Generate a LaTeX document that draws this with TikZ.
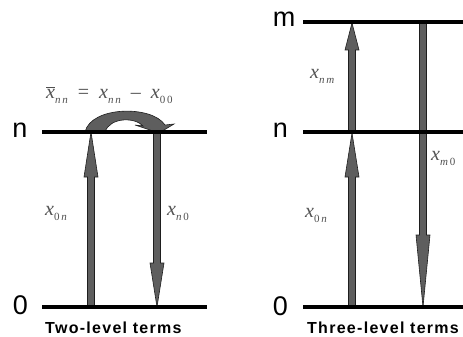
\documentclass[tikz,border=0pt]{standalone}
\usepackage{fontspec}
\setmainfont{Liberation Sans}
\newfontfamily\tms{Liberation Serif}
\newfontfamily\ttl{Liberation Sans}[LetterSpace=8]
\usetikzlibrary{calc}
\definecolor{arrfill}{HTML}{5E5E5E}
\definecolor{arredge}{HTML}{1E1E1E}
\definecolor{labgray}{HTML}{505050}
\tikzset{
 level/.style={line width=3.2pt, black},
 fatstyle/.style={fill=arrfill, draw=arredge, line width=0.6pt, line join=miter},
 lvlabel/.style={font=\fontsize{27}{27}\selectfont, anchor=base, inner sep=0pt},
 mlab/.style={font=\tms\fontsize{20}{20}\selectfont, text=labgray, anchor=base west, inner sep=0pt},
 ttlabel/.style={font=\ttl\bfseries\fontsize{16}{16}\selectfont, anchor=base west, inner sep=0pt},
}
\newcommand\fatarrow[3]{\filldraw[fatstyle] ($(#1)+(-3.5,0)$) -- ($(#2)+(-3.5,#3)$) -- ($(#2)+(-7,#3)$) -- (#2) -- ($(#2)+(7,#3)$) -- ($(#2)+(3.5,#3)$) -- ($(#1)+(3.5,0)$) -- cycle;}
\newcommand\xs[1]{\textit{x}\raisebox{-0.28em}{\fontsize{11}{11}\selectfont #1}}
\newcommand\xbs[1]{$\overline{\mbox{\textit{x}}}$\raisebox{-0.28em}{\fontsize{11}{11}\selectfont #1}}
\begin{document}
\begin{tikzpicture}[x=1pt,y=-1pt]
\useasboundingbox (0,0) rectangle (463,337);
% level end points
\coordinate (l0a) at (42,307); \coordinate (l0b) at (207,307);
\coordinate (lna) at (42,132); \coordinate (lnb) at (207,132);
\coordinate (r0a) at (303,307); \coordinate (r0b) at (463,307);
\coordinate (rna) at (303,132); \coordinate (rnb) at (463,132);
\coordinate (rma) at (303,22); \coordinate (rmb) at (463,22);
% arrow end points
\coordinate (u1s) at (91,307); \coordinate (u1t) at (91,132);
\coordinate (d1s) at (157,132); \coordinate (d1t) at (157,307);
\coordinate (u2s) at (352,307); \coordinate (u2t) at (352,133);
\coordinate (u3s) at (352,132); \coordinate (u3t) at (352,23);
\coordinate (d2s) at (423,22); \coordinate (d2t) at (423,307);
% arrows
\fatarrow{u1s}{u1t}{45}
\fatarrow{d1s}{d1t}{-44}
\fatarrow{u2s}{u2t}{44}
\fatarrow{u3s}{u3t}{27}
\fatarrow{d2s}{d2t}{-72}
% curved arrow
\filldraw[fatstyle] (85,132) .. controls (91,106) and (152,105) .. (165,125) -- (174,124) -- (159,133) -- (135,125) -- (143,126) .. controls (135,117) and (110,117) .. (105,132) -- cycle;
% levels
\draw[level] (l0a) -- (l0b);
\draw[level] (lna) -- (lnb);
\draw[level] (r0a) -- (r0b);
\draw[level] (rna) -- (rnb);
\draw[level] (rma) -- (rmb);
% level labels
\node[lvlabel] (ln) at (20,137) {n};
\node[lvlabel] (l0) at (20.5,314) {0};
\node[lvlabel] (rm) at (284,27) {m};
\node[lvlabel] (rn) at (280.5,137) {n};
\node[lvlabel] (r0) at (280.5,315) {0};
% math labels
\node[mlab] (f) at (46,98) {\xbs{\textit{n\,n}}\hspace{0.5em}=\hspace{0.5em}\xs{\textit{n\,n}}\hspace{0.5em}\textendash\hspace{0.5em}\xs{0\,0}};
\node[mlab] (a1) at (45,215) {\xs{0\,\textit{n}}};
\node[mlab] (a2) at (167,215) {\xs{\textit{n}\,0}};
\node[mlab] (a3) at (310,78) {\xs{\textit{n\,m}}};
\node[mlab] (a4) at (431,160) {\xs{\textit{m}\,0}};
\node[mlab] (a5) at (305,217) {\xs{0\,\textit{n}}};
% titles
\node[ttlabel] (t1) at (45,333) {Two-level terms};
\node[ttlabel] (t2) at (307,333) {Three-level terms};
\end{tikzpicture}
\end{document}
